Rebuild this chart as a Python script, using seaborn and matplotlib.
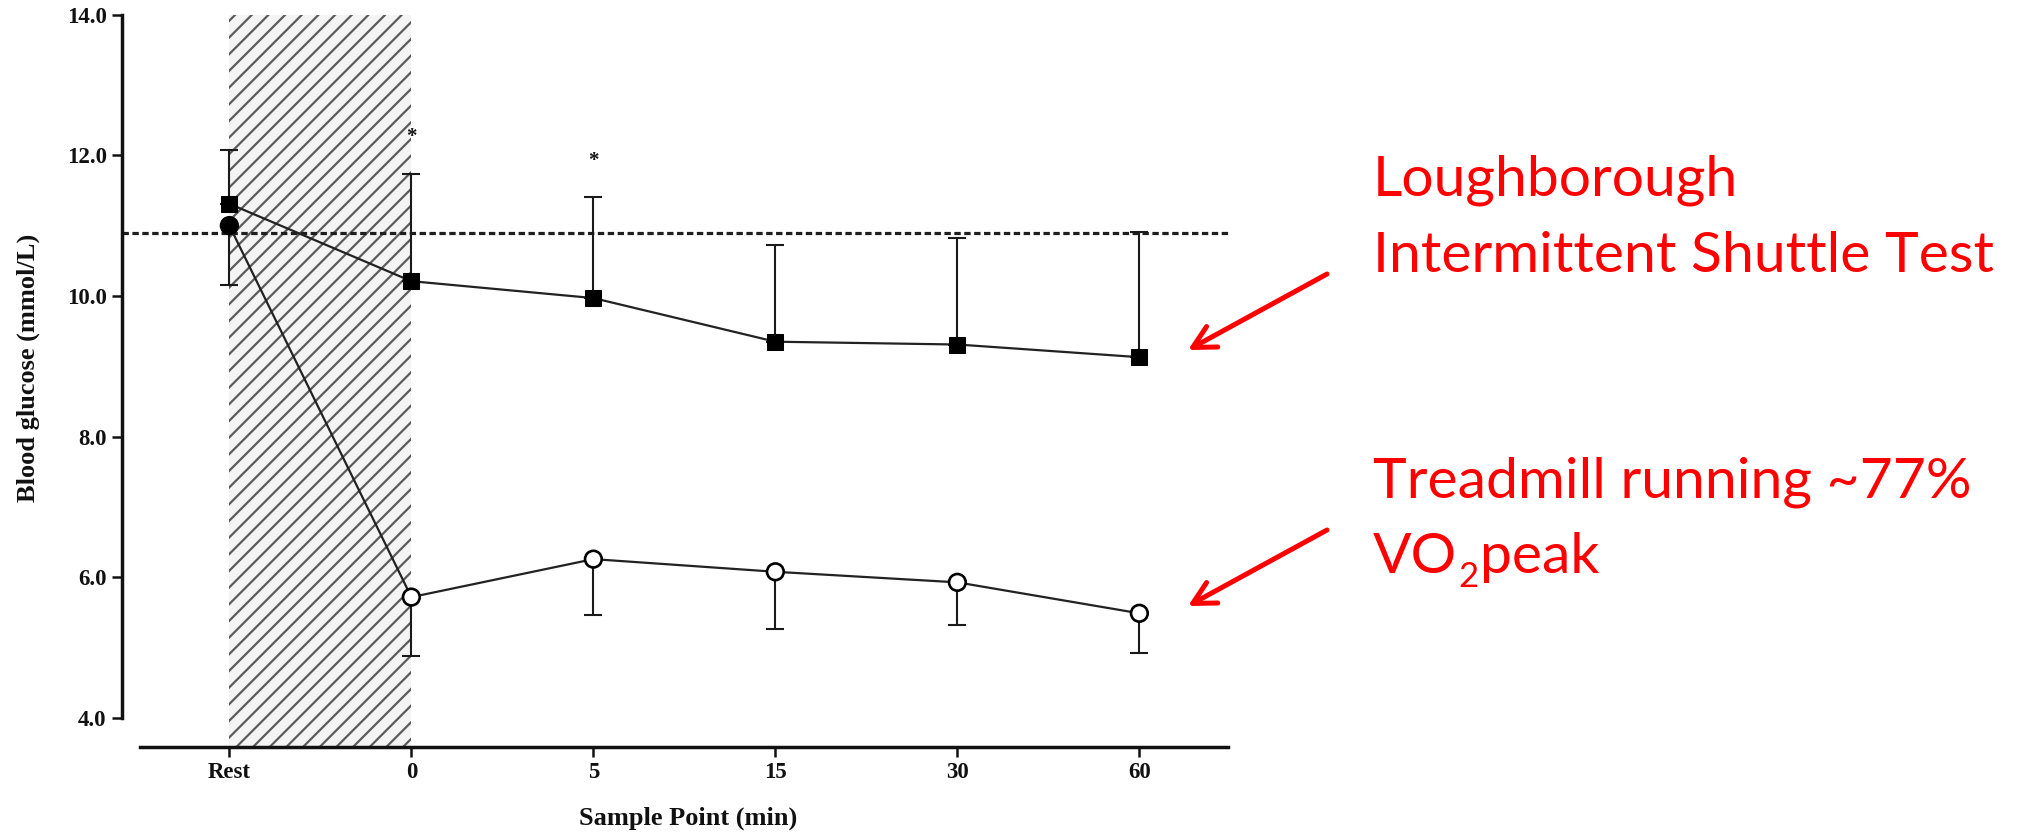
import numpy as np
import pandas as pd
import matplotlib
matplotlib.use("Agg")
import matplotlib.pyplot as plt
import seaborn as sns
from matplotlib.patches import FancyArrowPatch

# Sample points along the x axis
sample_points = ["Rest", "0", "5", "15", "30", "60"]

# Loughborough Intermittent Shuttle Test: blood glucose mean and SD (mmol/L)
list_mean = [11.31, 10.21, 9.97, 9.35, 9.31, 9.13]
list_sd = [0.77, 1.53, 1.43, 1.37, 1.51, 1.78]

# Treadmill running at ~77% VO2peak: blood glucose mean and SD (mmol/L)
run_mean = [11.00, 5.72, 6.26, 6.08, 5.93, 5.49]
run_sd = [0.84, 0.84, 0.79, 0.82, 0.61, 0.57]
run_face = ["black", "white", "white", "white", "white", "white"]

# Reference glucose level and significant time points
reference_glucose = 10.9
significant_points = ["0", "5"]

y_ticks = [4.0, 6.0, 8.0, 10.0, 12.0, 14.0]

sns.set_theme(style="ticks")
plt.rcParams["font.family"] = ["Liberation Serif", "DejaVu Serif"]
plt.rcParams["hatch.linewidth"] = 1.6

W, H = 2034, 833
fig = plt.figure(figsize=(W / 100, H / 100), dpi=100)
fig.patch.set_facecolor("white")
ax = fig.add_axes([122 / W, (H - 747) / H, 1106 / W, 732.5 / H])
ax.set_facecolor("white")

pos = np.arange(len(sample_points))
df = pd.DataFrame({
    "pos": pos,
    "list_mean": list_mean,
    "list_sd": list_sd,
    "run_mean": run_mean,
    "run_sd": run_sd,
})

# exercise period (Rest to 0 min)
ax.axvspan(0, 1, facecolor="#f4f4f4", edgecolor="#5c5c5c", hatch="//",
           linewidth=0, zorder=0)

# reference level
ax.hlines(reference_glucose, -0.59, 5.49, colors="#1e1e1e", linewidth=2.3,
          linestyles=(0, (2.0, 1.1)), zorder=1, clip_on=False)

# one-sided SD bars: upward for LIST, downward for treadmill
zeros = np.zeros(len(pos))
ax.errorbar(df["pos"], df["list_mean"], yerr=[zeros, df["list_sd"]], fmt="none",
            ecolor="#1a1a1a", elinewidth=1.5, capsize=6.5, capthick=1.5, zorder=2)
ax.errorbar(df["pos"], df["run_mean"], yerr=[df["run_sd"], zeros], fmt="none",
            ecolor="#1a1a1a", elinewidth=1.5, capsize=6.5, capthick=1.5, zorder=2)

# treadmill series: line + open circles (filled at rest)
sns.lineplot(data=df, x="pos", y="run_mean", ax=ax, color="#222222",
             linewidth=1.6, zorder=3, sort=False)
ax.scatter(df["pos"], df["run_mean"], s=12 ** 2, facecolors=run_face,
           edgecolors="black", linewidths=1.9, zorder=4)

# LIST series: line + filled squares
sns.lineplot(data=df, x="pos", y="list_mean", ax=ax, color="#222222",
             linewidth=1.6, marker="s", markersize=12, markerfacecolor="black",
             markeredgecolor="black", zorder=5, sort=False)

# significance markers above the SD bars
for sp in significant_points:
    i = sample_points.index(sp)
    ax.text(pos[i], list_mean[i] + list_sd[i] + 0.52, "*", ha="center",
            va="center", fontsize=15, fontweight="bold", color="#111111")

ax.set_xlim(-0.59, 5.487)
ax.set_ylim(3.59, 14.0)
ax.set_xticks(pos, sample_points)
ax.set_yticks(y_ticks, [f"{v:.1f}" for v in y_ticks])

for side in ["top", "right"]:
    ax.spines[side].set_visible(False)
ax.spines["left"].set_bounds(4.0, 14.0)
ax.spines["bottom"].set_bounds(-0.49, 5.487)
for side in ["left", "bottom"]:
    ax.spines[side].set_linewidth(2.5)
    ax.spines[side].set_color("#111111")

ax.tick_params(axis="both", direction="out", length=7, width=1.8,
               color="#111111", labelsize=16.5, labelcolor="#111111", pad=4)
for lab in ax.get_xticklabels() + ax.get_yticklabels():
    lab.set_fontweight("bold")

ax.set_xlabel("Sample Point (min)", fontsize=19, fontweight="bold", color="#111111")
ax.set_ylabel("Blood glucose (mmol/L)", fontsize=19, fontweight="bold", color="#111111")
ax.xaxis.label.set_va("baseline")
ax.xaxis.set_label_coords((688 - 122) / 1106, -(825 - 747) / 732.5)
ax.yaxis.label.set_va("baseline")
ax.yaxis.set_label_coords((35 - 122) / 1106, (747 - 368) / 732.5)

# red annotations
red = "#ff0000"
label_size = 41
text_left = 1373
lines = [
    ("Loughborough", 195),
    ("Intermittent Shuttle Test", 272),
    ("Treadmill running ~77%", 497),
]
for txt, base in lines:
    fig.text(text_left / W, 1 - base / H, txt, color=red, fontsize=label_size,
             family="Lato", ha="left", va="baseline")

# "VO2peak" with a lowered subscript 2
renderer = fig.canvas.get_renderer()
vo_base = 573
t_vo = fig.text(text_left / W, 1 - vo_base / H, "VO", color=red,
                fontsize=label_size, family="Lato", ha="left", va="baseline")
x_next = t_vo.get_window_extent(renderer).x1 + 1
t_sub = fig.text(x_next / W, 1 - (vo_base + 14) / H, "2", color=red,
                 fontsize=25, family="Lato", ha="left", va="baseline")
x_next = t_sub.get_window_extent(renderer).x1 + 2
fig.text(x_next / W, 1 - vo_base / H, "peak", color=red, fontsize=label_size,
         family="Lato", ha="left", va="baseline")

for (x0, y0), (x1, y1) in [((1327, 274), (1188, 350)), ((1327, 530), (1188, 606))]:
    arr = FancyArrowPatch((x0 / W, 1 - y0 / H), (x1 / W, 1 - y1 / H),
                          transform=fig.transFigure,
                          arrowstyle="->,head_length=0.8,head_width=0.42",
                          mutation_scale=20, linewidth=3.6, color=red,
                          shrinkA=0, shrinkB=0)
    fig.add_artist(arr)

fig.savefig("out.png", dpi=100, facecolor="white")
